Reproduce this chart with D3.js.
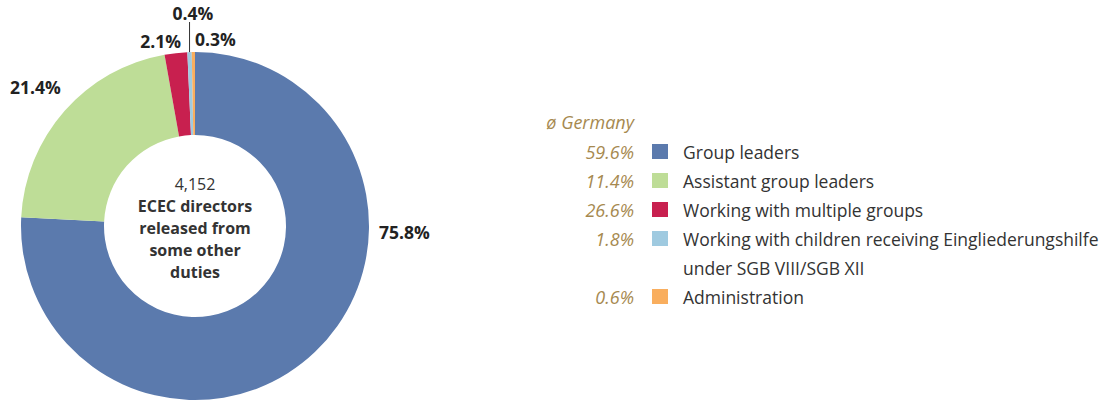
<!DOCTYPE html>
<html>
<head>
<meta charset="utf-8">
<script src="https://cdn.jsdelivr.net/npm/d3@7"></script>
<style>
body { margin: 0; background: #fff; }
svg { font-family: "Open Sans", "Noto Sans", sans-serif; }
</style>
</head>
<body>
<div id="chart"></div>
<script>
// slice data, clockwise from 12 o'clock
const categories = ['Group leaders', 'Assistant group leaders', 'Working with multiple groups',
  'Working with children receiving Eingliederungshilfe', 'Administration']
const shares = [75.8, 21.4, 2.1, 0.4, 0.3]
const colors = ['#5b7aad', '#bedd97', '#c8204f', '#9fcae0', '#f9ae5e']
const germany = ['59.6%', '11.4%', '26.6%', '1.8%', '0.6%']
const legendLines = [['Group leaders'], ['Assistant group leaders'], ['Working with multiple groups'],
  ['Working with children receiving Eingliederungshilfe', 'under SGB VIII/SGB XII'], ['Administration']]
const centerLines = ['4,152', 'ECEC directors', 'released from', 'some other', 'duties']

const w = 1107, h = 402
const cx = 195, cy = 226, rOuter = 174, rInner = 91

let svg = d3.select('#chart').append('svg').attr('width', w).attr('height', h)
let g = svg.append('g').attr('transform', `translate(${cx},${cy})`)

let pie = d3.pie().sort(null).value(d => d)
let arcs = pie(shares)
let arc = d3.arc().innerRadius(rInner).outerRadius(rOuter)

g.selectAll('.slice')
  .data(arcs)
  .join('path')
  .attr('class', 'slice')
  .attr('d', arc)
  .attr('fill', (d, i) => colors[i])

//label positions, small slices are pushed apart by hand
const labelPos = [
  { x: 184, y: 13, anchor: 'start' },
  { x: -185, y: -132, anchor: 'start' },
  { x: -14, y: -178, anchor: 'end' },
  { x: -2, y: -206, anchor: 'middle' },
  { x: 0, y: -180, anchor: 'start' }
]
g.selectAll('.pct')
  .data(arcs)
  .join('text')
  .attr('class', 'pct')
  .attr('x', (d, i) => labelPos[i].x)
  .attr('y', (d, i) => labelPos[i].y)
  .attr('text-anchor', (d, i) => labelPos[i].anchor)
  .attr('font-weight', 'bold')
  .attr('font-size', 17.5)
  .attr('fill', '#222')
  .text(d => d3.format('.1f')(d.data) + '%')

// leader line for the 0.4% slice
let mid = (arcs[3].startAngle + arcs[3].endAngle) / 2
g.append('line')
  .attr('x1', Math.sin(mid) * rOuter).attr('y1', -Math.cos(mid) * rOuter)
  .attr('x2', Math.sin(mid) * rOuter).attr('y2', -204)
  .attr('stroke', '#333').attr('stroke-width', 1)

// center text
g.selectAll('.center')
  .data(centerLines)
  .join('text')
  .attr('class', 'center')
  .attr('text-anchor', 'middle')
  .attr('x', 0)
  .attr('y', (d, i) => -36 + i * 22)
  .attr('font-size', 16)
  .attr('font-weight', (d, i) => i == 0 ? 'normal' : 'bold')
  .attr('fill', '#333')
  .text(d => d)

// legend
let legend = svg.append('g').attr('transform', 'translate(634,0)')
legend.append('text')
  .attr('x', 0).attr('y', 129)
  .attr('text-anchor', 'end')
  .attr('font-style', 'italic')
  .attr('font-size', 18)
  .attr('fill', '#a6894f')
  .text('ø Germany')

let rowY = [152, 181, 210, 239, 297]
let rows = legend.selectAll('.row')
  .data(categories)
  .join('g')
  .attr('class', 'row')
  .attr('transform', (d, i) => `translate(0,${rowY[i]})`)

rows.append('text')
  .attr('x', 0).attr('y', 6.5)
  .attr('text-anchor', 'end')
  .attr('font-style', 'italic')
  .attr('font-size', 18)
  .attr('fill', '#a6894f')
  .text((d, i) => germany[i])

rows.append('rect')
  .attr('x', 18).attr('y', -8)
  .attr('width', 16).attr('height', 15)
  .attr('fill', (d, i) => colors[i])

rows.each(function(d, i) {
  d3.select(this).selectAll('.lbl')
    .data(legendLines[i])
    .join('text')
    .attr('class', 'lbl')
    .attr('x', 49)
    .attr('y', (t, j) => 6.5 + j * 29)
    .attr('font-size', 17.5)
    .attr('fill', '#333')
    .text(t => t)
})
</script>
</body>
</html>
